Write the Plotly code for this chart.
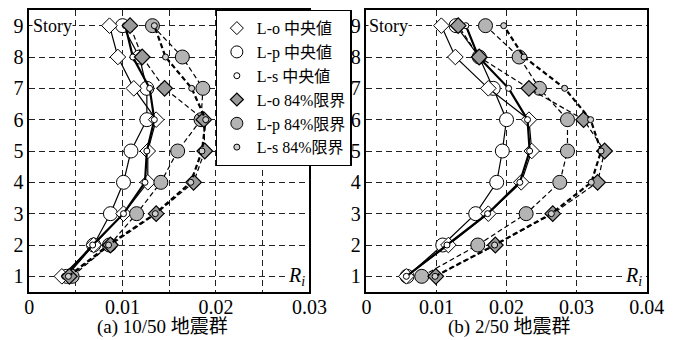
import plotly.graph_objects as go

# Story levels
stories = [1, 2, 3, 4, 5, 6, 7, 8, 9]

# (a) 10/50 ground-motion set: story drift ratio R_i
a_Lo_med = [0.0035, 0.0069, 0.0101, 0.0127, 0.0127, 0.0136, 0.0112, 0.0095, 0.0086]
a_Lp_med = [0.0040, 0.0069, 0.0087, 0.0101, 0.0109, 0.0126, 0.0126, 0.0118, 0.0100]
a_Ls_med = [0.0038, 0.0068, 0.0101, 0.0124, 0.0126, 0.0134, 0.0129, 0.0111, 0.0103]
a_Lo_84 = [0.0043, 0.0087, 0.0136, 0.0176, 0.0188, 0.0187, 0.0145, 0.0121, 0.0108]
a_Lp_84 = [0.0046, 0.0086, 0.0115, 0.0141, 0.0159, 0.0184, 0.0186, 0.0164, 0.0132]
a_Ls_84 = [0.0042, 0.0085, 0.0135, 0.0173, 0.0185, 0.0189, 0.0174, 0.0146, 0.0134]

# (b) 2/50 ground-motion set
b_Lo_med = [0.0057, 0.0117, 0.0174, 0.0221, 0.0236, 0.0232, 0.0174, 0.0127, 0.0107]
b_Lp_med = [0.0058, 0.0109, 0.0156, 0.0186, 0.0194, 0.0200, 0.0181, 0.0161, 0.0128]
b_Ls_med = [0.0057, 0.0115, 0.0173, 0.0219, 0.0233, 0.0230, 0.0203, 0.0160, 0.0142]
b_Lo_84 = [0.0099, 0.0184, 0.0266, 0.0330, 0.0340, 0.0310, 0.0232, 0.0161, 0.0131]
b_Lp_84 = [0.0079, 0.0159, 0.0228, 0.0276, 0.0287, 0.0287, 0.0247, 0.0218, 0.0170]
b_Ls_84 = [0.0098, 0.0183, 0.0264, 0.0321, 0.0335, 0.0320, 0.0283, 0.0225, 0.0196]

# Axis tick labels
a_ticks = [0, 0.01, 0.02, 0.03]
a_ticktext = ["0", "0.01", "0.02", "0.03"]
b_ticks = [0, 0.01, 0.02, 0.03, 0.04]
b_ticktext = ["0", "0.01", "0.02", "0.03", "0.04"]

names = ["L-o 中央値", "L-p 中央値", "L-s 中央値", "L-o 84%限界", "L-p 84%限界", "L-s 84%限界"]
captions = ["(a) 10/50 地震群", "(b) 2/50 地震群"]

SERIF = "'Liberation Serif', 'Noto Sans CJK JP', serif"

styles = [
    dict(symbol="diamond", size=12, color="white", lw=1.0, dash="solid", width=1.2),
    dict(symbol="circle", size=14, color="white", lw=1.0, dash="solid", width=1.2),
    dict(symbol="circle", size=6, color="white", lw=1.0, dash="solid", width=2.2),
    dict(symbol="diamond", size=12, color="#9a9a9a", lw=1.2, dash="5px,3px", width=1.2),
    dict(symbol="circle", size=14, color="#b4b4b4", lw=1.0, dash="5px,3px", width=1.2),
    dict(symbol="circle", size=6, color="#d0d0d0", lw=1.0, dash="5px,3px", width=2.2),
]
draw_order = [1, 0, 2, 4, 3, 5]

panels = [
    ([a_Lo_med, a_Lp_med, a_Ls_med, a_Lo_84, a_Lp_84, a_Ls_84], "x", "y"),
    ([b_Lo_med, b_Lp_med, b_Ls_med, b_Lo_84, b_Lp_84, b_Ls_84], "x2", "y2"),
]

fig = go.Figure()
for series, xa, ya in panels:
    for k in draw_order:
        s = styles[k]
        fig.add_trace(go.Scatter(
            x=series[k], y=stories, mode="lines+markers", xaxis=xa, yaxis=ya,
            showlegend=False, cliponaxis=False,
            line=dict(color="black", width=s["width"], dash=s["dash"]),
            marker=dict(symbol=s["symbol"], size=s["size"], color=s["color"],
                        line=dict(color="black", width=s["lw"])),
        ))

# Legend entries show only the marker symbols
for k, nm in enumerate(names):
    s = styles[k]
    fig.add_trace(go.Scatter(
        x=[None], y=[None], mode="markers", name=nm, xaxis="x", yaxis="y",
        marker=dict(symbol=s["symbol"], size=s["size"] - 2 if s["size"] > 8 else s["size"],
                    color=s["color"], line=dict(color="black", width=s["lw"])),
    ))

ydom = [(340 - 292) / 340, (340 - 10) / 340]
GRID_DASH = "6px,4px"
common_x = dict(showline=True, linecolor="black", linewidth=1.5, mirror=True, zeroline=False,
                ticks="", tickfont=dict(family=SERIF, size=20, color="black"),
                ticklabelstandoff=-4,
                showgrid=True, gridcolor="#222", gridwidth=1, griddash=GRID_DASH)
common_y = dict(range=[0.5, 9.5], tickvals=stories, showline=True, linecolor="black",
                linewidth=1.5, mirror=True, zeroline=False, ticks="",
                tickfont=dict(family=SERIF, size=20, color="black"),
                showgrid=True, gridcolor="#222", gridwidth=1, griddash=GRID_DASH)

fig.update_layout(
    width=683, height=340,
    margin=dict(l=0, r=0, t=0, b=0),
    paper_bgcolor="white", plot_bgcolor="white",
    xaxis=dict(domain=[25 / 683, 315 / 683], range=[0, 0.03],
               tickvals=a_ticks, ticktext=a_ticktext, tickangle=0,
               minor=dict(dtick=0.005, tick0=0, showgrid=True, gridcolor="#222", gridwidth=1,
                          griddash=GRID_DASH), **common_x),
    yaxis=dict(domain=ydom, anchor="x", **common_y),
    xaxis2=dict(domain=[374 / 683, 664 / 683], range=[0, 0.04],
                tickvals=b_ticks, ticktext=b_ticktext, tickangle=0,
                anchor="y2", **common_x),
    yaxis2=dict(domain=ydom, anchor="x2", **common_y),
    legend=dict(x=218 / 683, y=ydom[1], xanchor="left", yanchor="top",
                bgcolor="white", bordercolor="black", borderwidth=1.2,
                font=dict(family=SERIF, size=16, color="black"),
                itemwidth=30, tracegroupgap=0),
    showlegend=True,
)

annotations = [
    dict(x=28 / 683, y=9, xref="paper", yref="y", text="Story", showarrow=False,
         xanchor="left", yanchor="middle", bgcolor="white", borderpad=0,
         font=dict(family=SERIF, size=18, color="black")),
    dict(x=376 / 683, y=9, xref="paper", yref="y2", text="Story", showarrow=False,
         xanchor="left", yanchor="middle", bgcolor="white", borderpad=0,
         font=dict(family=SERIF, size=18, color="black")),
    dict(x=312 / 683, y=1, xref="paper", yref="y", text="<i>R<sub>i</sub></i>",
         showarrow=False, xanchor="right", yanchor="middle", bgcolor="white", borderpad=0,
         font=dict(family=SERIF, size=20, color="black")),
    dict(x=660 / 683, y=1, xref="paper", yref="y2", text="<i>R<sub>i</sub></i>",
         showarrow=False, xanchor="right", yanchor="middle", bgcolor="white", borderpad=0,
         font=dict(family=SERIF, size=20, color="black")),
    dict(x=163 / 683, y=0, xref="paper", yref="paper", text=captions[0],
         showarrow=False, xanchor="center", yanchor="bottom",
         font=dict(family=SERIF, size=19, color="black")),
    dict(x=522 / 683, y=0, xref="paper", yref="paper", text=captions[1],
         showarrow=False, xanchor="center", yanchor="bottom",
         font=dict(family=SERIF, size=19, color="black")),
]
fig.update_layout(annotations=annotations)

fig.write_html("out.html")
